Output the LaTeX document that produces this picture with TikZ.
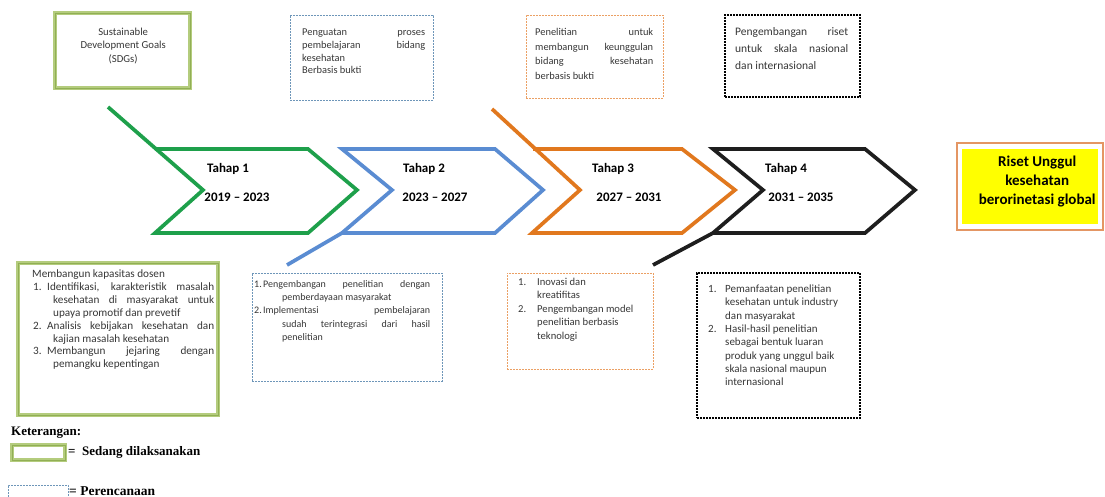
\documentclass[tikz,border=0pt]{standalone}
\usepackage{fontspec}
\setmainfont{Carlito}
\newfontfamily\legfont{Liberation Serif}
\definecolor{cgreen}{RGB}{30,160,75}
\definecolor{cblue}{RGB}{90,140,210}
\definecolor{corange}{RGB}{225,120,30}
\definecolor{cblack}{RGB}{30,30,30}
\definecolor{olivel}{RGB}{180,204,125}
\definecolor{olived}{RGB}{145,175,85}
\definecolor{bluedash}{RGB}{110,150,185}
\definecolor{orangedash}{RGB}{235,160,100}
\definecolor{ybord}{RGB}{228,150,100}
\definecolor{yfill}{RGB}{255,255,0}
\definecolor{txtgray}{RGB}{55,55,55}
\newcommand\BL[3]{\vtop{\hsize=#1\baselineskip=#2\lineskiplimit=-50pt\lineskip=0pt\relax#3}}
\newcommand\JL[2]{\hbox to\hsize{\hspace*{#1}#2}}
\newcommand\RL[2]{\hbox to\hsize{\hspace*{#1}#2\hfil}}
\newcommand\CL[1]{\hbox to\hsize{\hfil#1\hfil}}
\newcommand\Lb[2]{\makebox[#1][l]{#2}}
\tikzset{
  chev/.style={line width=3.7pt, line join=miter},
  ogbox/.style={draw=olived, line width=0.7pt, preaction={draw=olivel, line width=4pt}},
  bdash/.style={draw=bluedash, line width=0.9pt, dash pattern=on 2pt off 1pt},
  odash/.style={draw=orangedash, line width=0.9pt, dash pattern=on 2pt off 1pt},
  kdash/.style={draw=black, line width=1.1pt, dash pattern=on 2pt off 1pt},
  boxn/.style={anchor=north west, inner sep=0pt, outer sep=0pt},
  txt/.style={anchor=base west, inner sep=0pt, text=txtgray},
  tahap/.style={font=\fontsize{13}{15}\selectfont\bfseries, inner sep=0pt, text=black},
}
\begin{document}
\begin{tikzpicture}[x=1pt,y=-1pt]
\useasboundingbox (0,0) rectangle (1105,497);
\fill[white] (0,0) rectangle (1105,497);

% chevrons
\draw[chev, cgreen] (108,107) -- (203,190) -- (155,233) -- (308,233) -- (357,190) -- (308,149) -- (155,149);
\draw[chev, cblue] (287,265) -- (342,233) -- (392,190) -- (342,149) -- (495,149) -- (543,190) -- (495,233) -- (342,233);
\draw[chev, corange] (492,109) -- (580,190) -- (532,233) -- (682,233) -- (735,190) -- (682,149) -- (533,149);
\draw[chev, cblack] (653,265) -- (713,233) -- (763,190) -- (713,149) -- (865,149) -- (915,190) -- (865,233) -- (713,233);

\node[tahap] (t1) at (228,168.7) {Tahap 1};
\node[tahap] (y1) at (237,197.7) {2019 -- 2023};
\node[tahap] (t2) at (424,168.7) {Tahap 2};
\node[tahap] (y2) at (435,197.7) {2023 -- 2027};
\node[tahap] (t3) at (613,168.7) {Tahap 3};
\node[tahap] (y3) at (629,197.7) {2027 -- 2031};
\node[tahap] (t4) at (786,168.7) {Tahap 4};
\node[tahap] (y4) at (801,197.7) {2031 -- 2035};

% top boxes
\node[boxn, ogbox, minimum width=135, minimum height=75] (sdgbox) at (55,13) {};
\node[txt, font=\fontsize{10.7}{12}\selectfont] (sdgtxt) at (58,35.5) {\BL{130pt}{13.4pt}{\CL{Sustainable}\CL{Development Goals}\CL{(SDGs)}}};

\node[boxn, bdash, minimum width=143, minimum height=85] (pbluebox) at (290,15) {};
\node[txt, font=\fontsize{10.4}{12}\selectfont] (pbluetxt) at (302,35.6) {\BL{123pt}{12.8pt}{\JL{0pt}{Penguatan proses}\JL{0pt}{pembelajaran bidang}\RL{0pt}{kesehatan}\RL{0pt}{Berbasis bukti}}};

\node[boxn, odash, minimum width=137, minimum height=83] (porangebox) at (526,15) {};
\node[txt, font=\fontsize{10.4}{12}\selectfont] (porangetxt) at (535,35.6) {\BL{118pt}{14.7pt}{\JL{0pt}{Penelitian untuk}\JL{0pt}{membangun keunggulan}\JL{0pt}{bidang kesehatan}\RL{0pt}{berbasis bukti}}};

\node[boxn, kdash, minimum width=135, minimum height=82] (pblackbox) at (725,15) {};
\node[txt, font=\fontsize{11.5}{14}\selectfont] (pblacktxt) at (735,36) {\BL{113pt}{16.7pt}{\JL{0pt}{Pengembangan riset}\JL{0pt}{untuk skala nasional}\RL{0pt}{dan internasional}}};

% goal box
\node[boxn, draw=ybord, line width=2.5pt, fill=white, minimum width=146, minimum height=87] (goalbox) at (957,143) {};
\node[boxn, fill=yfill, minimum width=136, minimum height=75] (goalfill) at (962,149) {};
\node[anchor=base west, inner sep=0pt, font=\fontsize{15}{19}\selectfont\bfseries] (goaltxt) at (967,167) {\BL{140pt}{19pt}{\CL{Riset Unggul}\CL{kesehatan}\CL{berorinetasi global}}};

% bottom boxes
\node[boxn, ogbox, minimum width=200, minimum height=152] (bgreenbox) at (18,263) {};
\node[txt, font=\fontsize{11.2}{12}\selectfont] (bgreentxt) at (32,277.5) {\BL{182pt}{12.9pt}{%
\RL{0pt}{Membangun kapasitas dosen}%
\JL{1pt}{\Lb{14pt}{1.}Identifikasi, karakteristik masalah}%
\JL{21pt}{kesehatan di masyarakat untuk}%
\RL{21pt}{upaya promotif dan prevetif}%
\JL{1pt}{\Lb{14pt}{2.}Analisis kebijakan kesehatan dan}%
\RL{21pt}{kajian masalah kesehatan}%
\JL{1pt}{\Lb{14pt}{3.}Membangun jejaring dengan}%
\RL{21pt}{pemangku kepentingan}}};

\node[boxn, bdash, minimum width=190, minimum height=108] (bbluebox) at (252,273) {};
\node[txt, font=\fontsize{10}{11}\selectfont] (bbluetxt) at (254,287.2) {\BL{176pt}{13.3pt}{%
\JL{0pt}{\Lb{9pt}{1.}Pengembangan penelitian dengan}%
\RL{28pt}{pemberdayaan masyarakat}%
\JL{0pt}{\Lb{9pt}{2.}Implementasi pembelajaran}%
\JL{28pt}{sudah terintegrasi dari hasil}%
\RL{28pt}{penelitian}}};

\node[boxn, odash, minimum width=146, minimum height=96] (borangebox) at (507,273) {};
\node[txt, font=\fontsize{10.6}{12}\selectfont] (borangetxt) at (518,285.4) {\BL{125pt}{13.5pt}{%
\RL{0pt}{\Lb{19pt}{1.}Inovasi dan}%
\RL{19pt}{kreatifitas}%
\RL{0pt}{\Lb{19pt}{2.}Pengembangan model}%
\RL{19pt}{penelitian berbasis}%
\RL{19pt}{teknologi}}};

\node[boxn, kdash, minimum width=163, minimum height=145] (bblackbox) at (697,273) {};
\node[txt, font=\fontsize{11}{12}\selectfont] (bblacktxt) at (708,292.5) {\BL{140pt}{13.33pt}{%
\RL{0pt}{\Lb{17pt}{1.}Pemanfaatan penelitian}%
\RL{17pt}{kesehatan untuk industry}%
\RL{17pt}{dan masyarakat}%
\RL{0pt}{\Lb{17pt}{2.}Hasil-hasil penelitian}%
\RL{17pt}{sebagai bentuk luaran}%
\RL{17pt}{produk yang unggul baik}%
\RL{17pt}{skala nasional maupun}%
\RL{17pt}{internasional}}};

% legend
\node[anchor=west, inner sep=0pt, font=\legfont\fontsize{13}{15}\selectfont\bfseries] (leg) at (11,433) {Keterangan:};
\node[boxn, ogbox, minimum width=53, minimum height=15] (leg1box) at (12,445) {};
\node[anchor=west, inner sep=0pt, font=\legfont\fontsize{13}{15}\selectfont\bfseries] (leg1) at (68,452) {=\ \ Sedang dilaksanakan};
\draw[bdash] (8,497) -- (8,485) -- (68,485) -- (68,497);
\node[anchor=west, inner sep=0pt, font=\legfont\fontsize{13.5}{15}\selectfont\bfseries] (leg2) at (69,491) {= Perencanaan};
\end{tikzpicture}
\end{document}
